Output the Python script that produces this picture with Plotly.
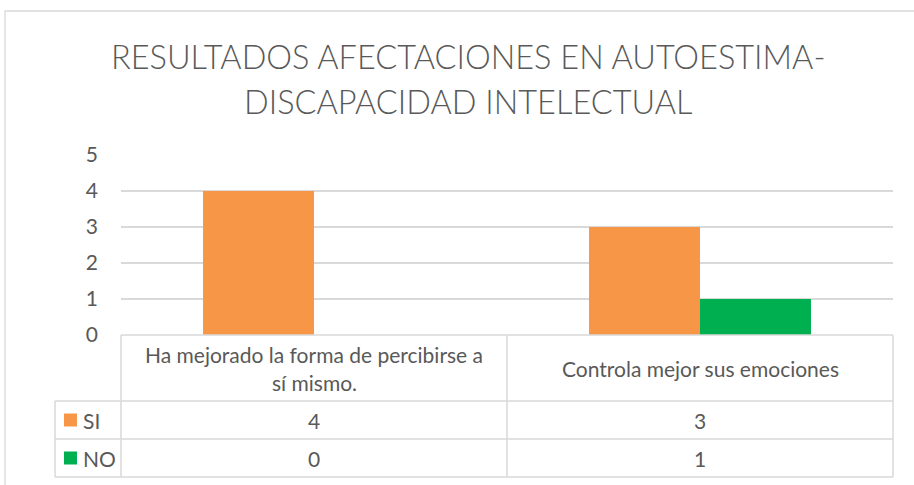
import plotly.graph_objects as go

# ---- data ----
categories = ["Ha mejorado la forma de percibirse a sí mismo.", "Controla mejor sus emociones"]
category_lines = [["Ha mejorado la forma de percibirse a", "sí mismo."], ["Controla mejor sus emociones"]]
series_names = ["SI", "NO"]
si_values = [4, 3]
no_values = [0, 1]
series_colors = ["#F79646", "#00B050"]
y_ticks = [0, 1, 2, 3, 4, 5]
title_lines = ["RESULTADOS AFECTACIONES EN AUTOESTIMA-", "DISCAPACIDAD INTELECTUAL"]

W, H = 914, 485
ML, MR, MT, MB = 121, 21, 155, 150
FONT = "Lato"
TXT = "#595959"
GRID = "#D9D9D9"

x_idx = list(range(len(categories)))
fig = go.Figure()
for name, vals, col in zip(series_names, [si_values, no_values], series_colors):
    fig.add_trace(go.Bar(x=x_idx, y=vals, name=name, marker=dict(color=col, line=dict(width=0)),
                         showlegend=False, hoverinfo="x+y+name"))

ph = H - MT - MB
pw = W - ML - MR
def py(pix):  # pixel y -> paper y
    return (H - MB - pix) / ph
def px(pix):  # pixel x -> paper x
    return (pix - ML) / pw

shapes = []
annotations = []
# outer chart border
shapes.append(dict(type="rect", xref="paper", yref="paper",
                   x0=px(5), x1=px(920), y0=py(490), y1=py(11),
                   line=dict(color=GRID, width=1.3), fillcolor="rgba(0,0,0,0)", layer="below"))

# data table (column boundaries follow the category axis: x = i - 0.5)
y_top, y_hdr, y_r1, y_r2 = 335, 401, 439, 477
ncat = len(categories)
col_px = [ML + (i / ncat) * pw for i in range(ncat + 1)]
x_left = 55
lw = dict(color=GRID, width=1.5)
shapes.append(dict(type="line", xref="paper", yref="paper", x0=px(col_px[0]), x1=px(col_px[-1]),
                   y0=py(y_top), y1=py(y_top), line=lw))
for yy in (y_hdr, y_r1, y_r2):
    shapes.append(dict(type="line", xref="paper", yref="paper", x0=px(x_left), x1=px(col_px[-1]),
                       y0=py(yy), y1=py(yy), line=lw))
shapes.append(dict(type="line", xref="paper", yref="paper", x0=px(x_left), x1=px(x_left),
                   y0=py(y_hdr), y1=py(y_r2), line=lw))
for cx in col_px:
    shapes.append(dict(type="line", xref="paper", yref="paper", x0=px(cx), x1=px(cx),
                       y0=py(y_top), y1=py(y_r2), line=lw))

TFS = 21
# header text
for i, lines in enumerate(category_lines):
    n = len(lines)
    center = (y_top + y_hdr) / 2
    spacing = 28
    for j, ln in enumerate(lines):
        yy = center + (j - (n - 1) / 2) * spacing
        annotations.append(dict(x=i, y=py(yy), xref="x", yref="paper", text=ln, showarrow=False,
                                font=dict(family=FONT, size=TFS, color=TXT), xanchor="center", yanchor="middle"))

# rows
row_centers = [(y_hdr + y_r1) / 2, (y_r1 + y_r2) / 2]
for r, (name, vals, col) in enumerate(zip(series_names, [si_values, no_values], series_colors)):
    yc = row_centers[r]
    shapes.append(dict(type="rect", xref="paper", yref="paper", x0=px(64), x1=px(77),
                       y0=py(yc + 6.5), y1=py(yc - 6.5), fillcolor=col, line=dict(width=0)))
    annotations.append(dict(x=px(81), y=py(yc), xref="paper", yref="paper", text=name, showarrow=False,
                            font=dict(family=FONT, size=TFS, color=TXT), xanchor="left", yanchor="middle"))
    for i, v in enumerate(vals):
        annotations.append(dict(x=i, y=py(yc), xref="x", yref="paper", text=str(v), showarrow=False,
                                font=dict(family=FONT, size=TFS, color=TXT), xanchor="center", yanchor="middle"))

# title
for j, t in enumerate(title_lines):
    annotations.append(dict(x=px(468), y=py(57 + j * 44), xref="paper", yref="paper", text=t,
                            showarrow=False, font=dict(family=FONT, size=32.5, color=TXT, weight=300),
                            xanchor="center", yanchor="middle"))

fig.update_layout(
    width=W, height=H,
    margin=dict(l=ML, r=MR, t=MT, b=MB, autoexpand=False),
    paper_bgcolor="white", plot_bgcolor="white",
    barmode="group", bargap=0.425, bargroupgap=0,
    xaxis=dict(range=[-0.5, ncat - 0.5], showticklabels=False, showgrid=False,
               zeroline=False, showline=False, ticks=""),
    yaxis=dict(range=[0, 5], tickvals=y_ticks, showgrid=True, gridcolor=GRID, gridwidth=1.5,
               zeroline=False, showline=False, ticks="", ticklabelstandoff=22,
               tickfont=dict(family=FONT, size=21, color=TXT)),
    shapes=shapes, annotations=annotations,
    font=dict(family=FONT, color=TXT),
)

fig.write_html("out.html", config={"displayModeBar": False},
               post_script="document.body.style.margin='0';document.body.style.padding='0';")
